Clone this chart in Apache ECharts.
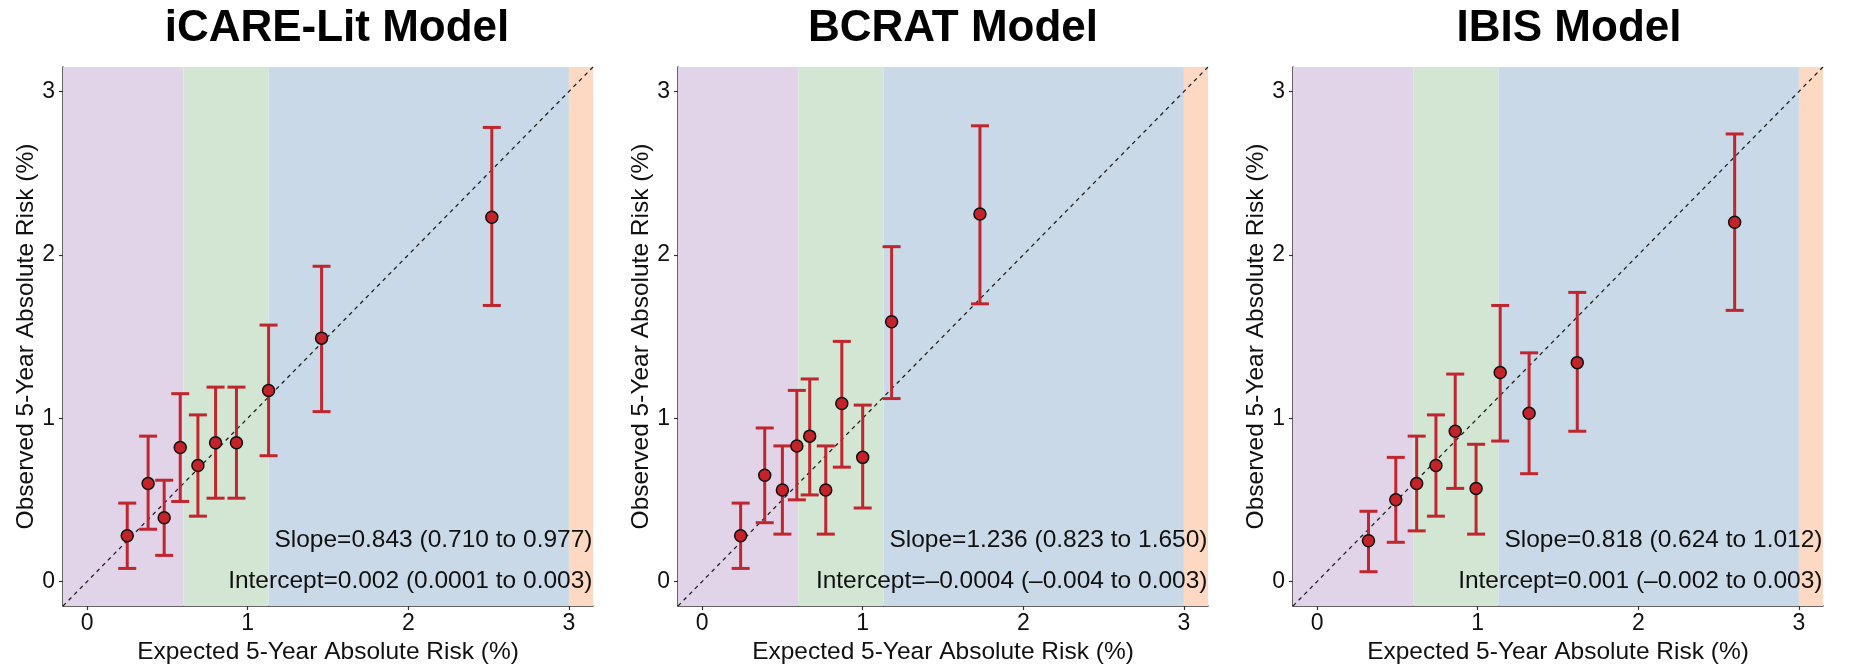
<!DOCTYPE html>
<html>
<head>
<meta charset="utf-8">
<script src="https://cdn.jsdelivr.net/npm/echarts@6/dist/echarts.min.js"></script>
<style>
  html, body { margin: 0; padding: 0; background: #fff; }
  #main { width: 1851px; height: 670px; }
</style>
</head>
<body>
<div id="main"></div>
<script>
// calibration data (percent, 5-year absolute risk)
var titles = ['iCARE-Lit Model', 'BCRAT Model', 'IBIS Model'];
var slopeTexts = [
  'Slope=0.843 (0.710 to 0.977)',
  'Slope=1.236 (0.823 to 1.650)',
  'Slope=0.818 (0.624 to 1.012)'
];
var interceptTexts = [
  'Intercept=0.002 (0.0001 to 0.003)',
  'Intercept=\u20130.0004 (\u20130.004 to 0.003)',
  'Intercept=0.001 (\u20130.002 to 0.003)'
];
var tickValues = [0, 1, 2, 3];
var axisRange = [-0.15, 3.15];
var riskBands = [-0.15, 0.6, 1.13, 3.0, 3.15];

var icareExpected = [0.25, 0.38, 0.48, 0.58, 0.69, 0.80, 0.93, 1.13, 1.46, 2.52];
var icareObserved = [0.28, 0.60, 0.39, 0.82, 0.71, 0.85, 0.85, 1.17, 1.49, 2.23];
var icareLower    = [0.08, 0.32, 0.16, 0.49, 0.40, 0.51, 0.51, 0.77, 1.04, 1.69];
var icareUpper    = [0.48, 0.89, 0.62, 1.15, 1.02, 1.19, 1.19, 1.57, 1.93, 2.78];

var bcratExpected = [0.24, 0.39, 0.50, 0.59, 0.67, 0.77, 0.87, 1.00, 1.18, 1.73];
var bcratObserved = [0.28, 0.65, 0.56, 0.83, 0.89, 0.56, 1.09, 0.76, 1.59, 2.25];
var bcratLower    = [0.08, 0.36, 0.29, 0.50, 0.53, 0.29, 0.70, 0.45, 1.12, 1.70];
var bcratUpper    = [0.48, 0.94, 0.83, 1.17, 1.24, 0.83, 1.47, 1.08, 2.05, 2.79];

var ibisExpected = [0.32, 0.49, 0.62, 0.74, 0.86, 0.99, 1.14, 1.32, 1.62, 2.60];
var ibisObserved = [0.25, 0.50, 0.60, 0.71, 0.92, 0.57, 1.28, 1.03, 1.34, 2.20];
var ibisLower    = [0.06, 0.24, 0.31, 0.40, 0.57, 0.29, 0.86, 0.66, 0.92, 1.66];
var ibisUpper    = [0.43, 0.76, 0.89, 1.02, 1.27, 0.84, 1.69, 1.40, 1.77, 2.74];

var panels = [
  { exp: icareExpected, obs: icareObserved, lo: icareLower, hi: icareUpper },
  { exp: bcratExpected, obs: bcratObserved, lo: bcratLower, hi: bcratUpper },
  { exp: ibisExpected,  obs: ibisObserved,  lo: ibisLower,  hi: ibisUpper }
];

var FONT = '"Liberation Sans", Arial, Helvetica, sans-serif';
var bandColors = ['#e1d3e8', '#d2e6d3', '#c9d9e7', '#fdd9c3'];
var gridLefts = [63, 678, 1293];
var titleCenters = [332, 948, 1564];
var barColor = '#c0262d';

var chartDom = document.getElementById('main');
var myChart = echarts.init(chartDom);

function renderErrorBar(params, api) {
  var x = api.value(0);
  var lo = api.coord([x, api.value(1)]);
  var hi = api.coord([x, api.value(2)]);
  var hw = 9;
  var style = { stroke: barColor, lineWidth: 3, fill: null };
  return {
    type: 'group',
    children: [
      { type: 'line', shape: { x1: lo[0], y1: lo[1], x2: hi[0], y2: hi[1] }, style: style },
      { type: 'line', shape: { x1: lo[0] - hw, y1: lo[1], x2: lo[0] + hw, y2: lo[1] }, style: style },
      { type: 'line', shape: { x1: hi[0] - hw, y1: hi[1], x2: hi[0] + hw, y2: hi[1] }, style: style }
    ]
  };
}

function axisCommon(name, i) {
  return {
    type: 'value',
    gridIndex: i,
    min: axisRange[0],
    max: axisRange[1],
    name: name,
    nameLocation: 'middle',
    nameTextStyle: { fontSize: 24.5, color: '#111', fontFamily: FONT },
    axisLine: { show: true, onZero: false, lineStyle: { color: '#333', width: 1.5 } },
    axisTick: { show: true, length: 4, customValues: tickValues, lineStyle: { color: '#333', width: 1.2 } },
    axisLabel: { customValues: tickValues, fontSize: 23, color: '#111', fontFamily: FONT },
    splitLine: { show: false }
  };
}

var grids = [], xAxes = [], yAxes = [], series = [], titleList = [];
panels.forEach(function (p, i) {
  grids.push({ left: gridLefts[i], top: 67, width: 530, height: 539 });

  var xa = axisCommon('Expected 5-Year Absolute Risk (%)', i);
  xa.nameGap = 31;
  xa.axisLabel.margin = 6;
  xAxes.push(xa);

  var ya = axisCommon('Observed 5-Year Absolute Risk (%)', i);
  ya.nameGap = 24;
  ya.axisLabel.margin = 8;
  yAxes.push(ya);

  titleList.push({
    text: titles[i],
    left: titleCenters[i],
    top: 2,
    textAlign: 'center',
    textStyle: { fontSize: 44, fontWeight: 'bold', color: '#000', fontFamily: FONT }
  });

  var bands = [];
  for (var k = 0; k < bandColors.length; k++) {
    bands.push([
      { xAxis: riskBands[k], itemStyle: { color: bandColors[k], opacity: 1 } },
      { xAxis: riskBands[k + 1] }
    ]);
  }

  // identity line with risk-category shading behind it
  series.push({
    type: 'line',
    xAxisIndex: i, yAxisIndex: i,
    data: [[axisRange[0], axisRange[0]], [axisRange[1], axisRange[1]]],
    symbol: 'none',
    silent: true,
    z: 2,
    lineStyle: { color: '#222', width: 1.3, type: [4, 4] },
    markArea: { silent: true, data: bands }
  });

  var bars = p.exp.map(function (x, j) { return [x, p.lo[j], p.hi[j]]; });
  series.push({
    type: 'custom',
    xAxisIndex: i, yAxisIndex: i,
    renderItem: renderErrorBar,
    encode: { x: 0, y: [1, 2] },
    data: bars,
    z: 3
  });

  var pts = p.exp.map(function (x, j) { return [x, p.obs[j]]; });
  series.push({
    type: 'scatter',
    xAxisIndex: i, yAxisIndex: i,
    data: pts,
    symbolSize: 12,
    z: 4,
    itemStyle: { color: '#c4232a', borderColor: '#111', borderWidth: 1.5, opacity: 1 }
  });

  // slope / intercept annotations, right-aligned to the panel edge
  series.push({
    type: 'scatter',
    xAxisIndex: i, yAxisIndex: i,
    data: [[axisRange[1], 0.25, slopeTexts[i]], [axisRange[1], 0, interceptTexts[i]]],
    symbolSize: 1,
    silent: true,
    z: 5,
    itemStyle: { color: 'rgba(0,0,0,0)' },
    label: {
      show: true,
      position: 'left',
      distance: 0,
      formatter: function (d) { return d.data[2]; },
      fontSize: 24.5,
      color: '#111',
      opacity: 1,
      textBorderWidth: 0,
      fontFamily: FONT
    }
  });
});

var option = {
  backgroundColor: '#fff',
  animation: false,
  title: titleList,
  grid: grids,
  xAxis: xAxes,
  yAxis: yAxes,
  series: series
};

option && myChart.setOption(option);
</script>
</body>
</html>
